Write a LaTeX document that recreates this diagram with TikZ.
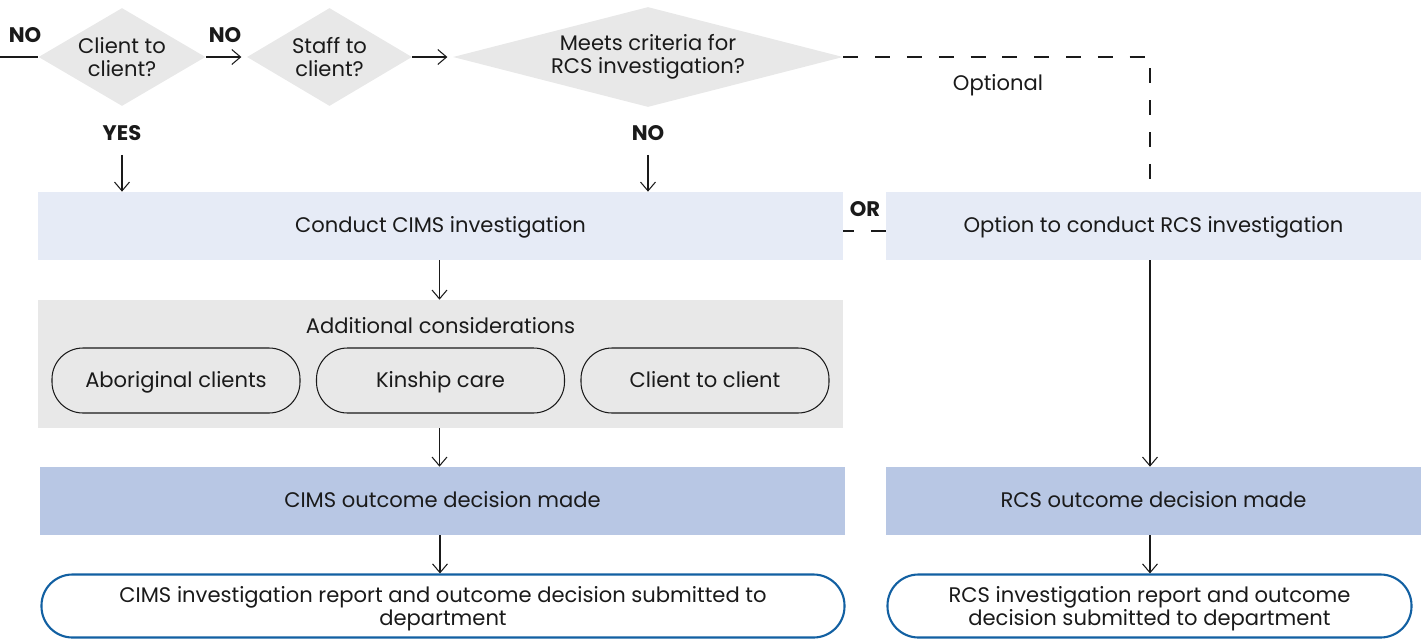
\documentclass[tikz,border=0pt]{standalone}
\usepackage{fontspec}
\setmainfont{Poppins}
\usetikzlibrary{arrows.meta,positioning,calc,shapes.geometric}
\definecolor{dgrey}{HTML}{E8E8E8}
\definecolor{lblue}{HTML}{E6EBF6}
\definecolor{mblue}{HTML}{B8C7E4}
\definecolor{pblue}{HTML}{1260A2}
\definecolor{ink}{HTML}{1A1A1A}

\begin{document}
\begin{tikzpicture}[
  font=\fontsize{12}{13.2}\selectfont,
  >={Straight Barb[length=5pt,width=8.5pt]},
  dec/.style={diamond, fill=dgrey, inner sep=0pt, minimum width=3.34cm, minimum height=1.96cm},
  dtxt/.style={text=ink, align=center, inner sep=0pt},
  bx/.style={fill=lblue, text=ink, align=center, minimum width=16.1cm, minimum height=1.36cm,
             text height=0.9em, text depth=0.15em},
  pill/.style={draw=ink, line width=0.6pt, rounded corners=0.62cm, text=ink, align=center,
               minimum width=4.96cm, minimum height=1.3cm, text height=0.9em, text depth=0.15em},
  endpill/.style={draw=pblue, line width=1.2pt, fill=white, rounded corners=0.62cm, text=ink,
                  align=center, minimum width=16.06cm, minimum height=1.26cm},
  flow/.style={->, draw=ink, line width=0.6pt},
  dsh/.style={draw=ink, line width=0.6pt, dash pattern=on 8.5pt off 9.6pt},
  lb/.style={font=\fontsize{12}{13.2}\selectfont\bfseries, text=ink, inner sep=1pt}
]
\useasboundingbox (0,0) rectangle (28.42,-12.78);

% decisions
\node[dec] (d1) at (2.44,-1.14) {};
\node[dtxt] (t1) at (d1) {Client to\\client?};
\node[dec, minimum width=3.30cm] (d2) at (6.59,-1.14) {};
\node[dtxt] (t2) at (d2) {Staff to\\client?};
\node[dec, minimum width=7.8cm, minimum height=2.0cm] (d3) at (12.96,-1.14) {};
\node[dtxt] (t3) at (d3) {Meets criteria for\\RCS investigation?};
\coordinate (start) at (0,-1.14);

% CIMS side
\node[bx] (cims) at (8.81,-4.52) {Conduct CIMS investigation};
\node[fill=dgrey, minimum width=16.1cm, minimum height=2.56cm] (cons) at (8.81,-7.28) {};
\node[text=ink] (ctitle) at (8.81,-6.52) {Additional considerations};
\node[pill] (abo) at (3.52,-7.61) {Aboriginal clients};
\node[pill] (kin) at (8.81,-7.61) {Kinship care};
\node[pill] (c2c) at (14.10,-7.61) {Client to client};
\node[bx, fill=mblue] (cout) at (8.85,-10.02) {CIMS outcome decision made};
\node[endpill] (crep) at (8.86,-12.12) {};
\node[text=ink, align=center] (crept) at (8.86,-12.18)
  {CIMS investigation report and outcome decision submitted to\\department};

% RCS side
\node[bx, minimum width=10.7cm] (opt) at (23.07,-4.52) {Option to conduct RCS investigation};
\node[bx, fill=mblue, minimum width=10.7cm] (rout) at (23.07,-10.02) {RCS outcome decision made};
\node[endpill, minimum width=10.48cm] (rrep) at (22.99,-12.12) {};
\node[text=ink, align=center] (rrept) at (22.99,-12.18)
  {RCS investigation report and outcome\\decision submitted to department};

% labels
\node[lb] (no1) at (0.50,-0.70) {NO};
\node[lb] (no2) at (4.50,-0.70) {NO};
\node[lb] (yes) at (2.44,-2.66) {YES};
\node[lb] (no3) at (12.96,-2.66) {NO};
\node[lb] (or) at (17.30,-4.18) {OR};
\node[text=ink] (optl) at (19.96,-1.70) {Optional};

\draw[flow, -] (start) -- (d1.west);
\draw[flow, shorten >=3pt] (d1.east) -- (d2.west);
\draw[flow, shorten >=3pt] (d2.east) -- (d3.west);
\draw[flow, shorten <=7pt] (yes.south) -- (yes.south |- cims.north);
\draw[flow, shorten <=7pt] (no3.south) -- (no3.south |- cims.north);
\draw[flow] (cims.south -| cons.north) ++(-0.02,0) coordinate (c1) -- (c1 |- cons.north);
\draw[flow] (cons.south) ++(-0.02,0) coordinate (c2) -- (c2 |- cout.north);
\draw[flow] (cout.south) ++(-0.05,0) coordinate (c3) -- (c3 |- crep.north);
\draw[flow] (opt.south) ++(-0.07,0) coordinate (r1) -- (r1 |- rout.north);
\draw[flow] (rout.south) ++(-0.07,0) coordinate (r2) -- (r2 |- rrep.north);

% optional route
\coordinate (bend) at ($(opt.north |- d3.east)+(-0.07,0)$);
\draw[dsh] (d3.east) -- (bend) -- ($(bend |- opt.north)+(0,0.16)$);
\draw[dsh] ([yshift=-0.1cm]opt.west) -- ([yshift=-0.1cm]cims.east);
\end{tikzpicture}
\end{document}
